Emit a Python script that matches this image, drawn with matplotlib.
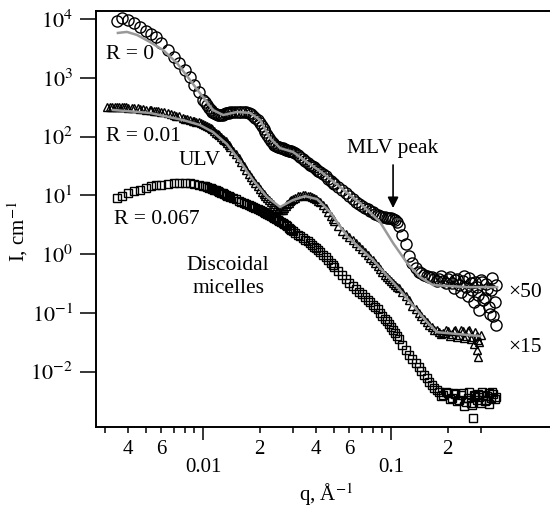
import numpy as np
import matplotlib
matplotlib.use('Agg')
import matplotlib.pyplot as plt
from matplotlib.ticker import FixedLocator, FixedFormatter, FuncFormatter

plt.rcParams['font.family'] = ['Liberation Serif', 'DejaVu Serif']
plt.rcParams['mathtext.fontset'] = 'stix'

# R = 0 (x50), circles
q_r0 = [0.0035, 0.0037, 0.004, 0.0043, 0.0046, 0.005, 0.0053, 0.0056, 0.006, 0.0065,
        0.007, 0.0075, 0.008, 0.0085, 0.009, 0.0095, 0.010, 0.0105, 0.011, 0.0115,
        0.012, 0.0125, 0.013, 0.0135, 0.014, 0.015, 0.016, 0.017, 0.018, 0.019,
        0.020, 0.021, 0.022, 0.023, 0.024, 0.025, 0.026, 0.027, 0.028, 0.029,
        0.030, 0.032, 0.034, 0.036, 0.038, 0.040, 0.042, 0.045, 0.048, 0.050,
        0.055, 0.060, 0.065, 0.070, 0.075, 0.080, 0.085, 0.090, 0.095, 0.100,
        0.105, 0.110, 0.115, 0.120, 0.125, 0.13, 0.14, 0.15, 0.16, 0.17,
        0.18, 0.19, 0.20, 0.21, 0.22, 0.23, 0.24, 0.25, 0.26, 0.27,
        0.28, 0.29, 0.30, 0.31, 0.32, 0.33, 0.34, 0.35, 0.36]
I_r0 = [9500, 10500, 9800, 8500, 7390, 6320, 5620, 4990, 3950, 3000,
        2280, 1770, 1370, 1040, 760, 577, 422, 347, 285, 254,
        234, 234, 244, 254, 259, 264, 264, 259, 244, 208,
        171, 135, 107, 84.5, 72.2, 66.7, 64, 61.6, 59, 57,
        55, 48.8, 41.7, 35.6, 31.7, 28.2, 25, 21.4, 17.6, 15.6,
        12.4, 9.77, 7.7, 6.6, 5.86, 5.21, 4.63, 4.37, 4.2, 4.12,
        3.81, 3.01, 2.11, 1.49, 0.93, 0.705, 0.494, 0.441, 0.407, 0.38,
        0.375, 0.348, 0.375, 0.322, 0.362, 0.298, 0.348, 0.275, 0.392, 0.245,
        0.335, 0.201, 0.362, 0.165, 0.31, 0.126, 0.245, 0.0883, 0.298]
# R = 0, extra points read between the ones above
q_r0_b = [0.0102, 0.0108, 0.0112, 0.0118, 0.0122, 0.0128, 0.0132, 0.0138, 0.0145,
          0.0155, 0.0165, 0.0175, 0.0185, 0.0195, 0.0205, 0.0215, 0.0225, 0.0235, 0.0245,
          0.0255, 0.0265, 0.0275, 0.0285, 0.0295, 0.031, 0.033, 0.035, 0.037, 0.039,
          0.041, 0.0435, 0.0465, 0.049, 0.0525, 0.0575, 0.0625, 0.0675, 0.0725, 0.0775,
          0.0825, 0.0875, 0.0925, 0.0975, 0.1025, 0.1075,
          0.135, 0.145, 0.155, 0.165, 0.175, 0.185, 0.195, 0.205, 0.215, 0.225,
          0.235, 0.245, 0.255, 0.265, 0.275, 0.285, 0.295, 0.305, 0.315, 0.325,
          0.335, 0.345, 0.355, 0.36]
I_r0_b = [392, 312, 268, 242, 234, 238, 249, 256, 262,
          264, 264, 254, 225, 189, 152, 120, 95, 78, 69.4,
          65.5, 63, 60.5, 58, 56, 52.7, 45, 38.5, 33.6, 29.9,
          26.5, 23.2, 19.4, 16.6, 13.9, 11.0, 8.68, 7.13, 6.22, 5.53,
          4.92, 4.45, 4.28, 4.2, 3.96, 3.52,
          0.58, 0.476, 0.424, 0.407, 0.348, 0.424, 0.322, 0.407, 0.264, 0.375,
          0.226, 0.424, 0.193, 0.322, 0.153, 0.275, 0.112, 0.335, 0.179, 0.255,
          0.0955, 0.392, 0.153, 0.0619]

# R = 0 fit
q_fit0 = [0.00353, 0.00394, 0.00446, 0.00522, 0.00613, 0.00727, 0.00853, 0.0100, 0.0113,
          0.0128, 0.0152, 0.0178, 0.0201, 0.0227, 0.0257, 0.0301, 0.0357, 0.0419,
          0.0536, 0.0684, 0.0874, 0.1025, 0.1217, 0.1427, 0.1673, 0.2537, 0.3663]
I_fit0 = [5840, 6080, 5400, 4100, 3000, 1800, 925, 474, 285,
          234, 264, 254, 192, 95, 64, 55, 37, 26,
          13.9, 7.4, 3.52, 1.55, 0.705, 0.407, 0.298, 0.275, 0.275]

# R = 0.01 (x15), triangles
q_r1 = [0.0031, 0.0033, 0.0035, 0.0037, 0.004, 0.0043, 0.0046, 0.005, 0.0053, 0.0056,
        0.006, 0.0065, 0.007, 0.0075, 0.008, 0.0085, 0.009, 0.0095, 0.010, 0.0105,
        0.011, 0.0115, 0.012, 0.0125, 0.013, 0.0135, 0.014, 0.015, 0.016, 0.017,
        0.018, 0.019, 0.020, 0.021, 0.022, 0.023, 0.024, 0.025, 0.026, 0.027,
        0.028, 0.029, 0.030, 0.032, 0.034, 0.036, 0.038, 0.040, 0.042, 0.045,
        0.048, 0.050, 0.055, 0.060, 0.065, 0.070, 0.075, 0.080, 0.085, 0.090,
        0.095, 0.100, 0.105, 0.110, 0.115, 0.120, 0.125, 0.13, 0.14, 0.15,
        0.16, 0.17, 0.18, 0.19, 0.20, 0.21, 0.22, 0.23, 0.24, 0.25,
        0.26, 0.27, 0.28, 0.29, 0.30, 0.275, 0.285, 0.29]
I_r1 = [321, 321, 321, 321, 314, 308, 302, 290, 285, 274,
        264, 254, 234, 221, 204, 192, 185, 175, 164, 152,
        141, 125, 111, 98.9, 88, 78.2, 66.7, 50.7, 37, 27.1,
        20.6, 16.3, 12.9, 10.6, 9.0, 7.7, 6.6, 5.86, 5.6, 6.1,
        7.13, 8.0, 8.68, 9.77, 10.2, 9.95, 9.4, 8.68, 7.7, 6.1,
        4.45, 3.66, 2.48, 1.95, 1.55, 1.22, 0.966, 0.793, 0.627, 0.495,
        0.407, 0.348, 0.298, 0.264, 0.226, 0.193, 0.165, 0.131, 0.0993, 0.0783,
        0.0619, 0.0509, 0.0471, 0.0453, 0.049, 0.0436, 0.0509, 0.0419, 0.049, 0.0403,
        0.0509, 0.0387, 0.0471, 0.0344, 0.0419, 0.030, 0.0232, 0.0177]
q_r1_b = [0.0032, 0.0034, 0.0036, 0.0038, 0.0039, 0.0042, 0.0045, 0.0048, 0.0052, 0.0055,
          0.0058, 0.0062, 0.0068, 0.0072, 0.0078, 0.0082, 0.0088, 0.0092, 0.0098, 0.0102,
          0.0108, 0.0112, 0.0118, 0.0122, 0.0128, 0.0132, 0.0138, 0.0145,
          0.0155, 0.0165, 0.0175, 0.0185, 0.0195, 0.0205, 0.0215, 0.0225, 0.0235, 0.0245,
          0.0255, 0.0265, 0.0275, 0.0285, 0.0295, 0.031, 0.033, 0.035, 0.037, 0.039,
          0.041, 0.0435, 0.0465, 0.049, 0.0525, 0.0575, 0.0625, 0.0675, 0.0725, 0.0775,
          0.0825, 0.0875, 0.0925, 0.0975, 0.1025, 0.1075,
          0.135, 0.145, 0.155, 0.165, 0.175, 0.185, 0.195, 0.205, 0.215, 0.225,
          0.235, 0.245, 0.255, 0.265, 0.285, 0.295]
I_r1_b = [321, 321, 321, 318, 316, 310, 304, 296, 287, 277,
          269, 260, 242, 229, 211, 199, 188, 180, 168, 159,
          146, 134, 117, 105, 92, 84, 71, 58,
          43.4, 31.7, 23.6, 18.3, 14.5, 11.6, 9.77, 8.35, 7.13, 6.22,
          5.75, 5.75, 6.6, 7.57, 8.35, 9.2, 9.95, 10.2, 9.77, 9.0,
          8.18, 6.86, 5.21, 4.04, 3.01, 2.2, 1.74, 1.37, 1.09, 0.875,
          0.705, 0.557, 0.449, 0.375, 0.322, 0.28,
          0.116, 0.0883, 0.0697, 0.0573, 0.0509, 0.0436, 0.0509, 0.0403, 0.049, 0.0387,
          0.0509, 0.0372, 0.049, 0.0358, 0.0403, 0.0318]

# R = 0.01 fit
q_fit1 = [0.00332, 0.00522, 0.00783, 0.00964, 0.0113, 0.0134, 0.0157, 0.01845, 0.0219,
          0.0257, 0.0301, 0.0349, 0.0404, 0.0474, 0.0583, 0.0802, 0.1116, 0.1554,
          0.1757, 0.2975]
I_fit1 = [285, 254, 192, 158, 120, 75, 38.5, 18.3, 9.4,
          6.35, 8.35, 9.7, 8.68, 5.21, 2.04, 0.793, 0.245, 0.0697,
          0.047, 0.0403]

# R = 0.067, squares
q_r2 = [0.0035, 0.0037, 0.004, 0.0043, 0.0046, 0.005, 0.0053, 0.0056, 0.006, 0.0065,
        0.007, 0.0075, 0.008, 0.0085, 0.009, 0.0095, 0.010, 0.0105, 0.011, 0.0115,
        0.012, 0.0125, 0.013, 0.0135, 0.014, 0.015, 0.016, 0.017, 0.018, 0.019,
        0.020, 0.021, 0.022, 0.023, 0.024, 0.025, 0.026, 0.027, 0.028, 0.029,
        0.030, 0.032, 0.034, 0.036, 0.038, 0.040, 0.042, 0.045, 0.048, 0.050,
        0.055, 0.060, 0.065, 0.070, 0.075, 0.080, 0.085, 0.090, 0.095, 0.100,
        0.105, 0.110, 0.115, 0.120, 0.125, 0.13, 0.14, 0.15, 0.16, 0.17,
        0.18, 0.19, 0.20, 0.21, 0.22, 0.23, 0.24, 0.25, 0.26, 0.27,
        0.28, 0.29, 0.30, 0.31, 0.32, 0.33, 0.34, 0.35, 0.36, 0.273, 0.245, 0.33]
I_r2 = [9.0, 9.77, 11.0, 11.9, 12.6, 13.4, 14.2, 14.8, 15.3, 15.6,
        16.0, 16.3, 16.3, 16.0, 15.6, 15.0, 14.5, 13.9, 13.4, 12.6,
        11.9, 11.0, 10.6, 9.95, 9.4, 8.68, 7.7, 7.13, 6.6, 6.1,
        5.6, 5.21, 4.82, 4.45, 4.12, 3.81, 3.52, 3.26, 3.01, 2.68,
        2.48, 2.11, 1.88, 1.67, 1.43, 1.27, 1.09, 0.893, 0.705, 0.603,
        0.441, 0.322, 0.254, 0.209, 0.165, 0.136, 0.116, 0.0883, 0.0725, 0.0573,
        0.0453, 0.0358, 0.0283, 0.0232, 0.0191, 0.0163, 0.0119, 0.0087, 0.00662, 0.00524,
        0.00448, 0.00398, 0.0043, 0.00354, 0.00414, 0.00327, 0.0043, 0.00303, 0.00448, 0.00269,
        0.00383, 0.00414, 0.00291, 0.00398, 0.00327, 0.0043, 0.00354, 0.00414, 0.00368,
        0.00161, 0.0026, 0.0028]
q_r2_b = [0.0102, 0.0108, 0.0112, 0.0118, 0.0122, 0.0128, 0.0132, 0.0138, 0.0145,
          0.0155, 0.0165, 0.0175, 0.0185, 0.0195, 0.0205, 0.0215, 0.0225, 0.0235, 0.0245,
          0.0255, 0.0265, 0.0275, 0.0285, 0.0295, 0.031, 0.033, 0.035, 0.037, 0.039,
          0.041, 0.0435, 0.0465, 0.049, 0.0525, 0.0575, 0.0625, 0.0675, 0.0725, 0.0775,
          0.0825, 0.0875, 0.0925, 0.0975, 0.1025, 0.1075,
          0.135, 0.145, 0.155, 0.165, 0.175, 0.185, 0.195, 0.205, 0.215, 0.225,
          0.235, 0.255, 0.265, 0.275, 0.285, 0.295, 0.305, 0.315, 0.325, 0.345, 0.355]
I_r2_b = [14.2, 13.6, 13.1, 12.2, 11.5, 10.8, 10.3, 9.6, 9.0,
          8.18, 7.4, 6.86, 6.35, 5.86, 5.42, 5.0, 4.63, 4.28, 3.96,
          3.66, 3.39, 3.13, 2.84, 2.58, 2.29, 2.0, 1.77, 1.55, 1.35,
          1.17, 0.984, 0.793, 0.652, 0.515, 0.375, 0.286, 0.231, 0.186, 0.153,
          0.128, 0.101, 0.08, 0.0645, 0.0509, 0.0403,
          0.014, 0.0102, 0.00776, 0.0059, 0.00484, 0.00383, 0.00448, 0.0034, 0.0043, 0.00315,
          0.00398, 0.00354, 0.00291, 0.00398, 0.00327, 0.00368, 0.00448, 0.00315, 0.00383,
          0.00448, 0.0034]

fig = plt.figure(figsize=(5.5, 5.07), dpi=100)
ax = fig.add_axes([96 / 550, 1 - 426.7 / 507, 454 / 550, 415.7 / 507])

sty = dict(ls='none', mfc='none', mec='black', mew=1.0, zorder=2)
ax.plot(q_r2 + q_r2_b, I_r2 + I_r2_b, marker='s', ms=6, **sty)
ax.plot(q_r1 + q_r1_b, I_r1 + I_r1_b, marker='^', ms=6, **sty)
ax.plot(q_r0 + q_r0_b, I_r0 + I_r0_b, marker='o', ms=8, **sty)
ax.plot(q_fit1, I_fit1, color='#999999', lw=1.8, zorder=3)
ax.plot(q_fit0, I_fit0, color='#999999', lw=1.8, zorder=3)

ax.set_xscale('log')
ax.set_yscale('log')
ax.set_xlim(0.0027, 0.70)
ax.set_ylim(1.156e-3, 1.38e4)

# y axis ticks
ax.yaxis.set_major_locator(FixedLocator([1e-2, 1e-1, 1, 10, 100, 1e3, 1e4]))
ax.yaxis.set_major_formatter(FuncFormatter(lambda v, p: r'$10^{%d}$' % round(np.log10(v))))
ax.yaxis.set_minor_locator(FixedLocator([]))
ax.tick_params(axis='y', which='major', direction='out', length=11.5, width=1.1,
               pad=5, labelsize=16)

# x axis ticks
minor_pos = [0.003, 0.004, 0.005, 0.006, 0.007, 0.008, 0.009,
             0.02, 0.03, 0.04, 0.05, 0.06, 0.07, 0.08, 0.09, 0.2, 0.3]
minor_lab = ['', '4', '', '6', '', '', '',
             '2', '', '4', '', '6', '', '', '', '2', '']
ax.xaxis.set_major_locator(FixedLocator([0.01, 0.1]))
ax.xaxis.set_major_formatter(FixedFormatter(['0.01', '0.1']))
ax.xaxis.set_minor_locator(FixedLocator(minor_pos))
ax.xaxis.set_minor_formatter(FixedFormatter(minor_lab))
ax.tick_params(axis='x', which='major', direction='out', length=9.5, width=1.1,
               pad=13, labelsize=15)
ax.tick_params(axis='x', which='minor', direction='out', length=4.5, width=1.1,
               pad=5, labelsize=15)

for s in ['left', 'bottom', 'top']:
    ax.spines[s].set_linewidth(1.4)
ax.spines['right'].set_visible(False)

ax.set_xlabel(r'q, Å$^{-1}$', fontsize=15, va='center')
ax.xaxis.set_label_coords(0.507, -0.163)
ax.set_ylabel(r'I, cm$^{-1}$', fontsize=15, va='center')
ax.yaxis.set_label_coords(-0.172, 0.469)

fs = 15.5
ax.text(0.00305, 2460, 'R = 0', fontsize=fs, ha='left', va='center')
ax.text(0.00305, 100, 'R = 0.01', fontsize=fs, ha='left', va='center')
ax.text(0.00745, 40, 'ULV', fontsize=fs, ha='left', va='center')
ax.text(0.00336, 3.96, 'R = 0.067', fontsize=fs, ha='left', va='center')
ax.text(0.0136, 0.407, 'Discoidal\nmicelles', fontsize=fs, ha='center', va='center',
        multialignment='center', linespacing=1.3)
ax.text(0.1025, 64, 'MLV peak', fontsize=fs, ha='center', va='center')
ax.annotate('', xy=(0.1025, 6.1), xytext=(0.1025, 33),
            arrowprops=dict(arrowstyle='-|>', color='black', lw=1.2,
                            mutation_scale=16, shrinkA=0, shrinkB=0))
ax.text(0.419, 0.226, '×50', fontsize=fs, ha='left', va='center')
ax.text(0.419, 0.0261, '×15', fontsize=fs, ha='left', va='center')

fig.savefig('out.png', dpi=100)
